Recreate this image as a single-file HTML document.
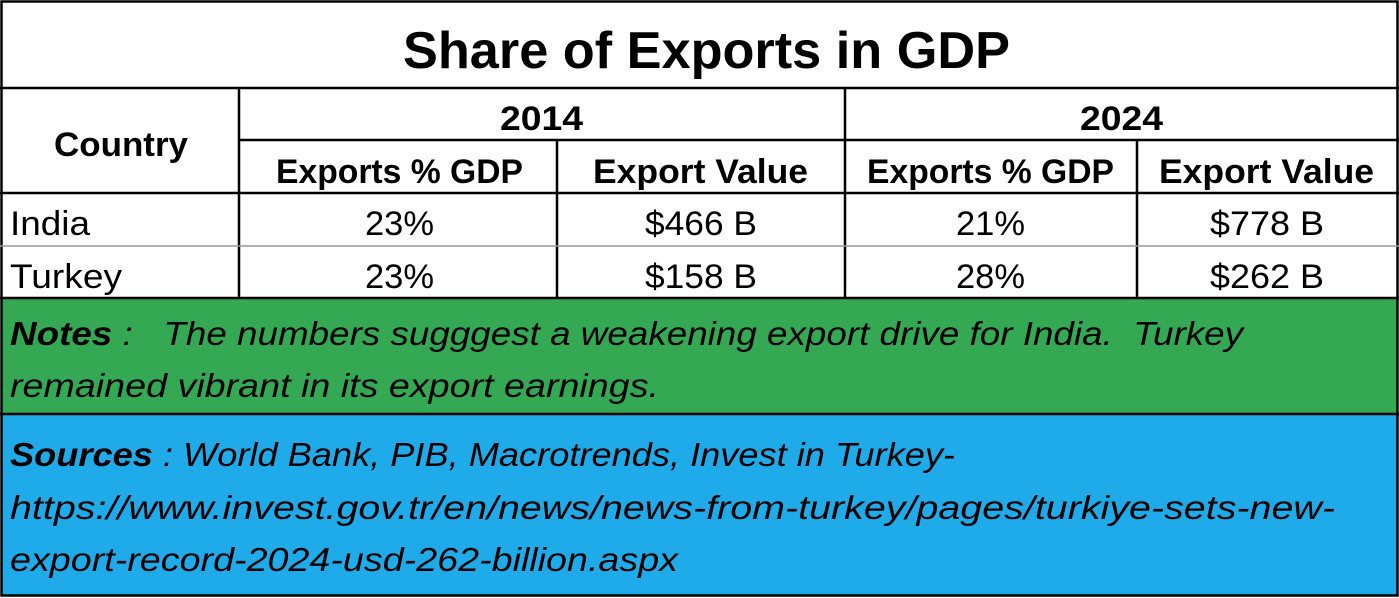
<!DOCTYPE html>
<html><head><meta charset="utf-8"><style>
html,body{margin:0;padding:0;background:#fff;}
svg{display:block;}
text{font-family:"Liberation Sans",sans-serif;fill:#000;}
</style></head><body>
<svg width="1399" height="598" viewBox="0 0 1399 598" xmlns="http://www.w3.org/2000/svg">
<rect x="0" y="0" width="1399" height="598" fill="#fff"/>
<rect x="1" y="298" width="1396" height="116" fill="#34a853"/>
<rect x="1" y="414" width="1396" height="182" fill="#1fabe9"/>
<g stroke="#000" stroke-width="2.5" fill="none">
<rect x="1.5" y="1.5" width="1396" height="594"/>
<line x1="0" y1="88" x2="1399" y2="88"/>
<line x1="0" y1="193" x2="1399" y2="193"/>
<line x1="0" y1="298" x2="1399" y2="298"/>
<line x1="0" y1="414" x2="1399" y2="414"/>
<line x1="239" y1="140" x2="1399" y2="140"/>
<line x1="239" y1="88" x2="239" y2="298"/>
<line x1="845" y1="88" x2="845" y2="298"/>
<line x1="557" y1="140" x2="557" y2="298"/>
<line x1="1137" y1="140" x2="1137" y2="298"/>
</g>
<line x1="0" y1="246" x2="1399" y2="246" stroke="#999" stroke-width="1.5"/>
<text x="403" y="68" font-size="52" font-weight="bold" textLength="607" lengthAdjust="spacingAndGlyphs">Share of Exports in GDP</text>
<g font-size="34" font-weight="bold">
<text x="54" y="156" textLength="134" lengthAdjust="spacingAndGlyphs">Country</text>
<text x="500" y="130" textLength="83" lengthAdjust="spacingAndGlyphs">2014</text>
<text x="1080" y="130" textLength="83" lengthAdjust="spacingAndGlyphs">2024</text>
<text x="276" y="183" textLength="247" lengthAdjust="spacingAndGlyphs">Exports % GDP</text>
<text x="593" y="183" textLength="215" lengthAdjust="spacingAndGlyphs">Export Value</text>
<text x="867" y="183" textLength="247" lengthAdjust="spacingAndGlyphs">Exports % GDP</text>
<text x="1159" y="183" textLength="215" lengthAdjust="spacingAndGlyphs">Export Value</text>
</g>
<g font-size="34">
<text x="10" y="235" textLength="80" lengthAdjust="spacingAndGlyphs">India</text>
<text x="365" y="235" textLength="69" lengthAdjust="spacingAndGlyphs">23%</text>
<text x="645" y="235" textLength="112" lengthAdjust="spacingAndGlyphs">$466 B</text>
<text x="956" y="235" textLength="69" lengthAdjust="spacingAndGlyphs">21%</text>
<text x="1210" y="235" textLength="114" lengthAdjust="spacingAndGlyphs">$778 B</text>
<text x="10" y="288" textLength="112" lengthAdjust="spacingAndGlyphs">Turkey</text>
<text x="365" y="288" textLength="69" lengthAdjust="spacingAndGlyphs">23%</text>
<text x="645" y="288" textLength="112" lengthAdjust="spacingAndGlyphs">$158 B</text>
<text x="956" y="288" textLength="69" lengthAdjust="spacingAndGlyphs">28%</text>
<text x="1210" y="288" textLength="114" lengthAdjust="spacingAndGlyphs">$262 B</text>
</g>
<g font-size="33" font-style="italic">
<text x="10" y="345" textLength="1233" lengthAdjust="spacingAndGlyphs" xml:space="preserve"><tspan font-weight="bold">Notes</tspan> :   The numbers sugggest a weakening export drive for India.  Turkey</text>
<text x="10" y="397" textLength="649" lengthAdjust="spacingAndGlyphs">remained vibrant in its export earnings.</text>
<text x="10" y="466" textLength="945" lengthAdjust="spacingAndGlyphs"><tspan font-weight="bold">Sources</tspan> : World Bank, PIB, Macrotrends, Invest in Turkey-</text>
<text x="10" y="519" textLength="1325" lengthAdjust="spacingAndGlyphs">https://www.invest.gov.tr/en/news/news-from-turkey/pages/turkiye-sets-new-</text>
<text x="10" y="571" textLength="668" lengthAdjust="spacingAndGlyphs">export-record-2024-usd-262-billion.aspx</text>
</g>
</svg>
</body></html>
